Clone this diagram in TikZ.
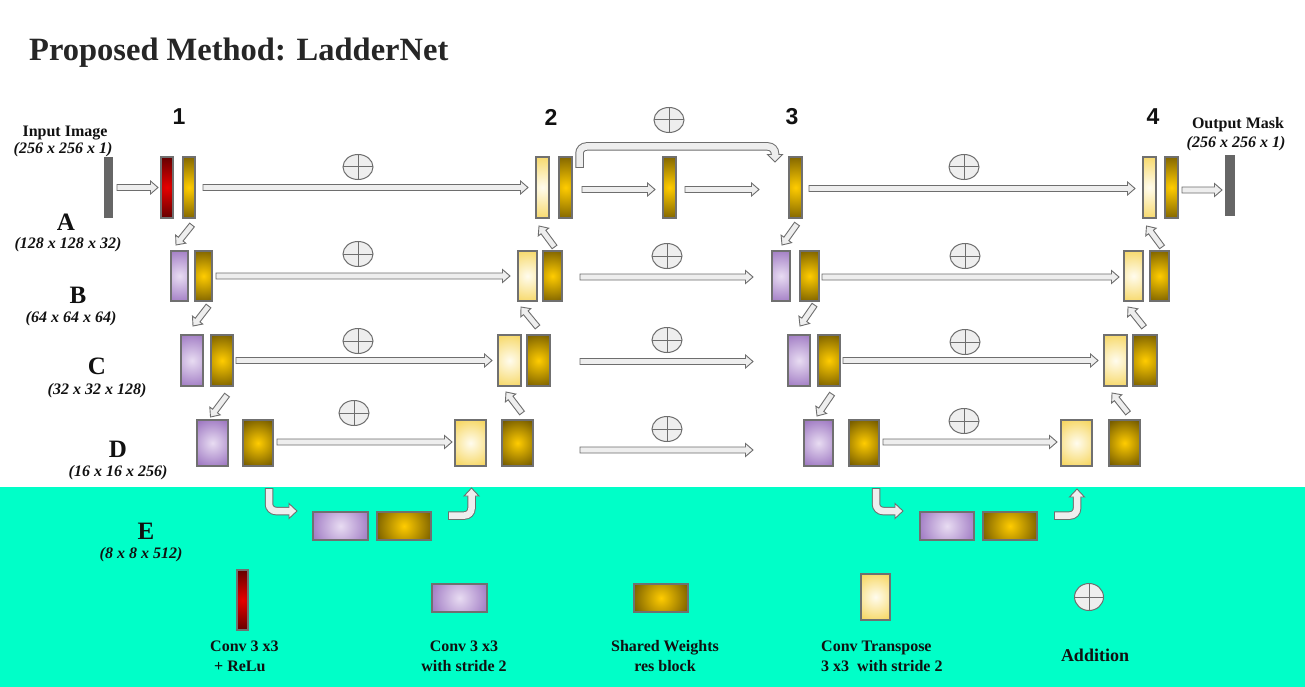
\documentclass[tikz,border=0pt]{standalone}
\usepackage{fontspec}
\setmainfont{Liberation Serif}
\newfontfamily\numfont{Liberation Sans}
\usetikzlibrary{calc,shapes.geometric}

\definecolor{bgc}{RGB}{0,255,200}
\definecolor{edgec}{RGB}{112,112,112}
\definecolor{goldin}{RGB}{255,204,0}
\definecolor{goldout}{RGB}{118,92,0}
\definecolor{redin}{RGB}{232,0,0}
\definecolor{redout}{RGB}{85,0,0}
\definecolor{purin}{RGB}{232,220,242}
\definecolor{purout}{RGB}{158,120,194}
\definecolor{ylwin}{RGB}{255,252,238}
\definecolor{ylwout}{RGB}{246,214,96}
\definecolor{barc}{RGB}{102,102,102}
\definecolor{arrfill}{RGB}{238,238,238}
\definecolor{arredge}{RGB}{110,110,110}
\definecolor{titlec}{RGB}{38,38,38}
\definecolor{txtc}{RGB}{17,17,17}

\newcommand\blkR{10}
\tikzset{
  blkbase/.style={draw=edgec, line width=1.1pt, inner sep=0pt, outer sep=0pt},
  grad/.style n args={2}{blkbase, fill=#2, path picture={\shade[inner color=#1, outer color=#2]
      (path picture bounding box.center) circle[radius=\blkR pt];}},
  goldb/.style={grad={goldin}{goldout}},
  redb/.style={grad={redin}{redout}},
  purb/.style={grad={purin}{purout}},
  ylwb/.style={grad={ylwin}{ylwout}},
  iobar/.style={fill=barc, inner sep=0pt, outer sep=0pt},
  addn/.style={ellipse, draw=arredge, fill=arrfill, line width=1pt,
    minimum width=30pt, minimum height=25pt, inner sep=0pt,
    path picture={\draw[arredge, line width=1pt]
      (path picture bounding box.north) -- (path picture bounding box.south)
      (path picture bounding box.west) -- (path picture bounding box.east);}},
  arrsty/.style={draw=arredge, fill=arrfill, line width=0.9pt, line join=miter},
  bentout/.style={draw=arredge, line width=8.5pt, rounded corners=7pt},
  bentin/.style={draw=arrfill, line width=6.5pt, rounded corners=7pt, shorten <=1pt},
  pics/barrowpic/.style={code={
    \draw[arrsty] (0pt,-3pt) -- ({#1-7.5pt},-3pt) -- ({#1-7.5pt},-6.5pt) -- ({#1},0pt)
      -- ({#1-7.5pt},6.5pt) -- ({#1-7.5pt},3pt) -- (0pt,3pt) -- cycle;}},
  num/.style={font=\numfont\fontsize{23}{26}\selectfont\bfseries, text=txtc, inner sep=0pt},
  rowl/.style={font=\fontsize{25}{28}\selectfont\bfseries, text=txtc, inner sep=0pt},
  subl/.style={font=\fontsize{16}{19}\selectfont\bfseries\itshape, text=txtc, inner sep=0pt},
  iol/.style={font=\fontsize{16}{19}\selectfont\bfseries, text=txtc, inner sep=0pt},
  legl/.style={font=\fontsize{16}{20}\selectfont\bfseries, text=txtc, inner sep=0pt},
}

\newcommand\mkblock[6]{\pgfmathsetmacro\blkR{0.56*max(#5-#3,#6-#4)}\node[#2, minimum width={(#5-#3)*1pt}, minimum height={(#6-#4)*1pt}] (#1) at ({(#3+#5)/2},{(#4+#6)/2}) {};}
\newcommand\mkarrow[2]{\path let \p1=#1, \p2=#2, \n1={atan2(\y2-\y1,\x2-\x1)}, \n2={veclen(\x2-\x1,\y2-\y1)} in pic[rotate=\n1] at (\p1) {barrowpic=\n2};}

\begin{document}
\begin{tikzpicture}[x=1pt,y=-1pt]
\fill[white] (0,0) rectangle (1305,687);
\fill[bgc] (0,487) rectangle (1305,687);
\useasboundingbox (0,0) rectangle (1305,687);

% title
\node[anchor=base west, font=\fontsize{32.5}{36}\selectfont\bfseries, text=titlec, inner sep=0pt] (title) at (29,61) {Proposed Method: LadderNet};

% labels
\node[num] (n1) at (179,117) {1};
\node[num] (n2) at (551,117) {2};
\node[num] (n3) at (792,117) {3};
\node[num] (n4) at (1153,117) {4};
\node[iol, anchor=base] (tin) at (65,137) {Input Image};
\node[subl, anchor=base] (tins) at (63,154) {(256 x 256 x 1)};
\node[iol, anchor=base] (tout) at (1238,129) {Output Mask};
\node[subl, anchor=base] (touts) at (1236,148) {(256 x 256 x 1)};
\node[rowl] (lA) at (66,222) {A};
\node[subl] (sA) at (68,245) {(128 x 128 x 32)};
\node[rowl] (lB) at (78,295) {B};
\node[subl] (sB) at (71,319) {(64 x 64 x 64)};
\node[rowl] (lC) at (97,366) {C};
\node[subl] (sC) at (97,391) {(32 x 32 x 128)};
\node[rowl] (lD) at (118,449) {D};
\node[subl] (sD) at (118,473) {(16 x 16 x 256)};
\node[rowl] (lE) at (146,531) {E};
\node[subl] (sE) at (141,555) {(8 x 8 x 512)};

% row 0
\mkblock{inp}{iobar}{104}{157}{113}{218}
\mkblock{r1}{redb}{161}{157}{173}{218}
\mkblock{g1}{goldb}{183}{157}{195}{218}
\mkblock{y2}{ylwb}{536}{157}{549}{218}
\mkblock{g2}{goldb}{559}{157}{572}{218}
\mkblock{gm}{goldb}{663}{157}{676}{218}
\mkblock{g3}{goldb}{789}{157}{802}{218}
\mkblock{y4}{ylwb}{1143}{157}{1156}{218}
\mkblock{g4}{goldb}{1165}{157}{1178}{218}
\mkblock{outp}{iobar}{1225}{155}{1235}{216}
% row A
\mkblock{pA1}{purb}{171}{251}{188}{301}
\mkblock{gA1}{goldb}{195}{251}{212}{301}
\mkblock{yA2}{ylwb}{518}{251}{537}{301}
\mkblock{gA2}{goldb}{543}{251}{562}{301}
\mkblock{pA3}{purb}{772}{251}{790}{301}
\mkblock{gA3}{goldb}{800}{251}{819}{301}
\mkblock{yA4}{ylwb}{1124}{251}{1143}{301}
\mkblock{gA4}{goldb}{1150}{251}{1169}{301}
% row B
\mkblock{pB1}{purb}{181}{335}{203}{386}
\mkblock{gB1}{goldb}{211}{335}{233}{386}
\mkblock{yB2}{ylwb}{498}{335}{521}{386}
\mkblock{gB2}{goldb}{527}{335}{550}{386}
\mkblock{pB3}{purb}{788}{335}{810}{386}
\mkblock{gB3}{goldb}{818}{335}{840}{386}
\mkblock{yB4}{ylwb}{1104}{335}{1127}{386}
\mkblock{gB4}{goldb}{1133}{335}{1157}{386}
% row C
\mkblock{pC1}{purb}{197}{420}{228}{466}
\mkblock{gC1}{goldb}{243}{420}{273}{466}
\mkblock{yC2}{ylwb}{455}{420}{486}{466}
\mkblock{gC2}{goldb}{502}{420}{533}{466}
\mkblock{pC3}{purb}{804}{420}{833}{466}
\mkblock{gC3}{goldb}{849}{420}{879}{466}
\mkblock{yC4}{ylwb}{1061}{420}{1092}{466}
\mkblock{gC4}{goldb}{1109}{420}{1140}{466}
% row E
\mkblock{pE1}{purb}{313}{512}{368}{540}
\mkblock{gE1}{goldb}{377}{512}{431}{540}
\mkblock{pE2}{purb}{920}{512}{974}{540}
\mkblock{gE2}{goldb}{983}{512}{1037}{540}

% additions
\node[addn] (ad01) at (358,167) {};
\node[addn] (ad02) at (669,120) {};
\node[addn] (ad03) at (964,167) {};
\node[addn] (adA1) at (358,254) {};
\node[addn] (adA2) at (667,256) {};
\node[addn] (adA3) at (965,256) {};
\node[addn] (adB1) at (358,341) {};
\node[addn] (adB2) at (667,340) {};
\node[addn] (adB3) at (965,342) {};
\node[addn] (adC1) at (354,413) {};
\node[addn] (adC2) at (667,429) {};
\node[addn] (adC3) at (964,421) {};

% horizontal arrows
\mkarrow{($(inp.east)+(4,0)$)}{($(r1.west)+(-3,0)$)}
\mkarrow{($(g1.east)+(8,0)$)}{($(y2.west)+(-8,0)$)}
\mkarrow{($(g2.east)+(10,2)$)}{($(gm.west)+(-8,2)$)}
\mkarrow{($(gm.east)+(9,2)$)}{($(g3.west)+(-30,2)$)}
\mkarrow{($(g3.east)+(7,1)$)}{($(y4.west)+(-8,1)$)}
\mkarrow{($(g4.east)+(4,2.5)$)}{($(outp.west)+(-3,4.5)$)}
\mkarrow{($(gA1.east)+(4,0)$)}{($(yA2.west)+(-8,0)$)}
\mkarrow{($(gA2.east)+(18,1)$)}{($(pA3.west)+(-19,1)$)}
\mkarrow{($(gA3.east)+(3,1)$)}{($(yA4.west)+(-5,1)$)}
\mkarrow{($(gB1.east)+(3,0)$)}{($(yB2.west)+(-6,0)$)}
\mkarrow{($(gB2.east)+(30,1)$)}{($(pB3.west)+(-35,1)$)}
\mkarrow{($(gB3.east)+(3,0)$)}{($(yB4.west)+(-6,0)$)}
\mkarrow{($(gC1.east)+(4,-1)$)}{($(yC2.west)+(-3,-1)$)}
\mkarrow{($(gC2.east)+(47,7)$)}{($(pC3.west)+(-51,7)$)}
\mkarrow{($(gC3.east)+(4,-1)$)}{($(yC4.west)+(-4,-1)$)}

% diagonal arrows (down)
\mkarrow{($(g1.south)+(3,7)$)}{($(pA1.north)+(-3.5,-6)$)}
\mkarrow{($(gA1.south)+(5,5)$)}{($(pB1.north)+(1,-9)$)}
\mkarrow{($(gB1.south)+(5,9)$)}{($(pC1.north)+(-2,-3)$)}
\mkarrow{($(g3.south)+(1.5,6)$)}{($(pA3.north)+(1,-6)$)}
\mkarrow{($(gA3.south)+(5,4)$)}{($(pB3.north)+(1,-9)$)}
\mkarrow{($(gB3.south)+(3,8)$)}{($(pC3.north)+(-1.5,-4)$)}
% diagonal arrows (up)
\mkarrow{($(gA2.north)+(2,-4)$)}{($(y2.south)+(-3.5,8)$)}
\mkarrow{($(gB2.north)+(-1,-8)$)}{($(yA2.south)+(-6.5,6)$)}
\mkarrow{($(gC2.north)+(4.5,-7)$)}{($(yB2.south)+(-3.5,6)$)}
\mkarrow{($(gA4.north)+(2.5,-4)$)}{($(y4.south)+(-3,8)$)}
\mkarrow{($(gB4.north)+(-1,-8)$)}{($(yA4.south)+(-5.5,6)$)}
\mkarrow{($(gC4.north)+(3.5,-7)$)}{($(yB4.south)+(-3.5,7)$)}

% skip arrow over top
\coordinate (skA) at ($(g2.north east)+(7.5,11)$);
\coordinate (skB) at ($(g3.north west)+(-14,5)$);
\draw[bentout] (skA) |- ($(skB)+(0,-15.5)$) -- ($(skB)+(0,-7.5)$);
\draw[arrsty] ($(skB)+(-7.5,-7.5)$) -- (skB) -- ($(skB)+(7.5,-7.5)$) -- cycle;
\draw[bentin] (skA) |- ($(skB)+(0,-15.5)$) -- ($(skB)+(0,-6.5)$);

% bent arrows to/from E
\coordinate (e1s) at ($(gC1.south east)+(-4,22)$);
\coordinate (e1t) at ($(pE1.west)+(-16,-15)$);
\draw[bentout] (e1s) |- ($(e1t)+(-8,0)$);
\draw[arrsty] ($(e1t)+(-8,-7.5)$) -- (e1t) -- ($(e1t)+(-8,7.5)$) -- cycle;
\draw[bentin] (e1s) |- ($(e1t)+(-7,0)$);

\coordinate (e2s) at ($(gE1.east)+(17,-10.5)$);
\coordinate (e2t) at ($(yC2.south)+(1,22)$);
\draw[bentout] (e2s) -| ($(e2t)+(0,8)$);
\draw[arrsty] ($(e2t)+(-7.5,8)$) -- (e2t) -- ($(e2t)+(7.5,8)$) -- cycle;
\draw[bentin] (e2s) -| ($(e2t)+(0,7)$);

\coordinate (e3s) at ($(gC3.south)+(12,22)$);
\coordinate (e3t) at ($(pE2.west)+(-17,-15)$);
\draw[bentout] (e3s) |- ($(e3t)+(-8,0)$);
\draw[arrsty] ($(e3t)+(-8,-7.5)$) -- (e3t) -- ($(e3t)+(-8,7.5)$) -- cycle;
\draw[bentin] (e3s) |- ($(e3t)+(-7,0)$);

\coordinate (e4s) at ($(gE2.east)+(17,-10.5)$);
\coordinate (e4t) at ($(yC4.south)+(0.5,23)$);
\draw[bentout] (e4s) -| ($(e4t)+(0,8)$);
\draw[arrsty] ($(e4t)+(-7.5,8)$) -- (e4t) -- ($(e4t)+(7.5,8)$) -- cycle;
\draw[bentin] (e4s) -| ($(e4t)+(0,7)$);

% legend
\mkblock{lgr}{redb}{237}{570}{248}{630}
\mkblock{lgp}{purb}{432}{584}{487}{612}
\mkblock{lgg}{goldb}{634}{584}{688}{612}
\mkblock{lgy}{ylwb}{861}{574}{890}{620}
\node[addn, minimum width=29pt, minimum height=27pt] (lga) at (1089,597) {};
\node[legl, align=left, anchor=west] (lt1) at (210,656) {Conv 3 x3\\\hspace*{4pt}+ ReLu};
\node[legl, align=center] (lt2) at (464,656) {Conv 3 x3\\with stride 2};
\node[legl, align=center] (lt3) at (665,656) {Shared Weights\\res block};
\node[legl, align=left, anchor=west] (lt4) at (821,656) {Conv Transpose\\3 x3\ \ with stride 2};
\node[font=\fontsize{18}{22}\selectfont\bfseries, text=txtc, inner sep=0pt] (lt5) at (1095,655) {Addition};
\end{tikzpicture}
\end{document}
